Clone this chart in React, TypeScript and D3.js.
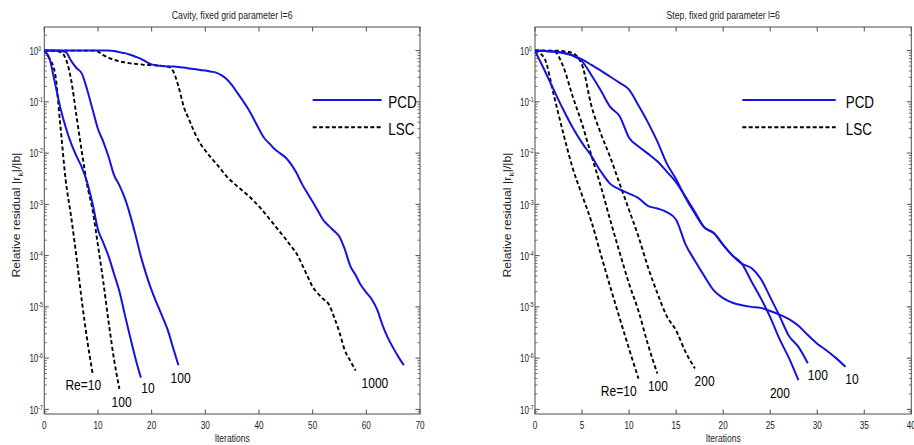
import React from 'react';
import * as d3 from 'd3';

const W = 914;
const H = 445;

// y axis: decades shown as tick labels
const yTickExps = [0, -1, -2, -3, -4, -5, -6, -7];
const cavityXTicks = [0, 10, 20, 30, 40, 50, 60, 70];
const stepXTicks = [0, 5, 10, 15, 20, 25, 30, 35, 40];

// log10 of relative residual, one value per iteration (iteration = index)
// Cavity
const cavityLsc10 = [0, -0.16, -0.44, -1.47, -2.54, -3.24, -4.03, -4.89, -5.65, -6.3];
const cavityLsc100 = [0, 0, -0.01, -0.03, -0.16, -0.57, -1.28, -1.98, -2.63, -3.11, -3.8, -4.52, -5.31, -6.03, -6.6];
const cavityPcd10 = [0, -0.17, -0.64, -1.12, -1.5, -1.81, -2.06, -2.28, -2.58, -2.99, -3.49, -3.75, -4.02, -4.36, -4.7, -5.15, -5.59, -6.01, -6.38];
const cavityPcd100 = [0, 0, 0, -0.01, -0.03, -0.2, -0.34, -0.45, -0.77, -1.15, -1.53, -1.78, -2.08, -2.43, -2.63, -2.88, -3.21, -3.6, -4.02, -4.37, -4.68, -4.94, -5.19, -5.45, -5.8, -6.14];
const cavityLsc1000 = [0, 0, 0, 0, 0, 0, 0, 0, 0, 0, -0.02, -0.09, -0.14, -0.18, -0.21, -0.23, -0.25, -0.26, -0.27, -0.28, -0.28, -0.29, -0.3, -0.31, -0.4, -0.7, -1.1, -1.35, -1.6, -1.8, -1.95, -2.08, -2.2, -2.33, -2.46, -2.56, -2.65, -2.74, -2.83, -2.93, -3.04, -3.16, -3.29, -3.42, -3.55, -3.68, -3.82, -3.96, -4.17, -4.39, -4.61, -4.74, -4.85, -4.95, -5.2, -5.5, -5.85, -6.05, -6.24];
const cavityPcd1000 = [0, 0, 0, 0, 0, 0, 0, 0, 0, 0, 0, 0, 0, -0.01, -0.03, -0.05, -0.08, -0.12, -0.16, -0.22, -0.27, -0.29, -0.3, -0.31, -0.31, -0.32, -0.33, -0.35, -0.36, -0.38, -0.39, -0.41, -0.43, -0.48, -0.56, -0.68, -0.83, -0.98, -1.14, -1.33, -1.53, -1.71, -1.82, -1.93, -2.01, -2.09, -2.22, -2.39, -2.6, -2.78, -2.95, -3.13, -3.31, -3.42, -3.52, -3.63, -3.88, -4.2, -4.38, -4.58, -4.72, -4.85, -5.05, -5.35, -5.6, -5.8, -5.98, -6.14];

// Step
const stepLsc10 = [0, -0.15, -0.87, -1.61, -2.29, -2.82, -3.34, -3.98, -4.61, -5.22, -5.82, -6.4];
const stepLsc100 = [0, 0, -0.01, -0.31, -0.89, -1.43, -2.05, -2.65, -3.31, -3.94, -4.55, -5.08, -5.73, -6.3];
const stepLsc200 = [0, 0, 0, -0.01, -0.05, -0.28, -1.08, -1.62, -2.08, -2.6, -3.11, -3.63, -4.22, -4.73, -5.18, -5.46, -5.88, -6.2];
const stepPcd10 = [0, -0.38, -0.77, -1.15, -1.5, -1.8, -2.06, -2.36, -2.6, -2.71, -2.79, -2.88, -3.03, -3.08, -3.15, -3.3, -3.78, -4.1, -4.4, -4.68, -4.83, -4.92, -4.97, -5.0, -5.02, -5.08, -5.15, -5.24, -5.37, -5.55, -5.72, -5.85, -6.0, -6.17];
const stepPcd100 = [0, -0.01, -0.02, -0.05, -0.1, -0.21, -0.48, -0.78, -1.1, -1.28, -1.7, -1.87, -2.01, -2.16, -2.36, -2.57, -2.85, -3.15, -3.45, -3.56, -3.79, -4.0, -4.16, -4.24, -4.45, -4.81, -5.18, -5.57, -5.78, -6.1];
const stepPcd200 = [0, -0.01, -0.02, -0.04, -0.09, -0.17, -0.28, -0.39, -0.51, -0.63, -0.76, -1.07, -1.4, -1.77, -2.2, -2.51, -2.87, -3.18, -3.45, -3.56, -3.79, -4.0, -4.16, -4.5, -4.83, -5.2, -5.63, -6.0, -6.43];

// curve-end annotations: [text, iteration, log10 residual]
const cavityLabels: [string, number, number][] = [
  ['Re=10', 7.27, -6.63],
  ['100', 14.4, -6.95],
  ['10', 19.3, -6.69],
  ['100', 25.4, -6.48],
  ['1000', 61.6, -6.59],
];
const stepLabels: [string, number, number][] = [
  ['Re=10', 8.9, -6.74],
  ['100', 13.07, -6.65],
  ['200', 18.03, -6.55],
  ['200', 26.04, -6.78],
  ['100', 30.07, -6.43],
  ['10', 33.7, -6.5],
];

const BLUE = '#1414dc';
const FONT = "'Liberation Sans', Arial, Helvetica, sans-serif";
const AXIS = '#4d4d4d';

const yScale = d3.scaleLog().domain([Math.pow(10, -7.09), Math.pow(10, 0.46)]).range([414, 27]);

type Series = { logs: number[]; kind: 'PCD' | 'LSC' };

function Cond({ x, y, sx, anchor, size, children, fill = '#111' }: any) {
  return (
    <text
      transform={`translate(${x},${y}) scale(${sx},1)`}
      textAnchor={anchor}
      fontSize={size}
      fontFamily={FONT}
      fill={fill}
    >
      {children}
    </text>
  );
}

function Panel({ id, x0, x1, xMax, xTicks, title, titleW, series, labels, legendX0, legendX1, legendTextX, yLabelX }: any) {
  const x = d3.scaleLinear().domain([0, xMax]).range([x0, x1]);
  const y = yScale;
  const [yBot, yTop] = y.range() as [number, number];
  const line = d3
    .line<number>()
    .x((_d, i) => x(i))
    .y((d) => y(Math.pow(10, d)))
    .curve(d3.curveMonotoneX);
  const minor: number[] = [];
  for (let e = -8; e <= 0; e++) {
    for (let k = 2; k <= 9; k++) {
      const v = k * Math.pow(10, e);
      if (v >= y.domain()[0] && v <= y.domain()[1]) minor.push(v);
    }
  }
  const cx = (x0 + x1) / 2;
  return (
    <g>
      <defs>
        <clipPath id={id}>
          <rect x={x0} y={yTop} width={x1 - x0} height={yBot - yTop} />
        </clipPath>
      </defs>
      <rect x={x0} y={yTop} width={x1 - x0} height={yBot - yTop} fill="#fff" stroke={AXIS} strokeWidth={1} />
      {xTicks.map((t: number) => (
        <g key={'xt' + t}>
          <line x1={x(t)} x2={x(t)} y1={yBot} y2={yBot - 4.5} stroke={AXIS} />
          <line x1={x(t)} x2={x(t)} y1={yTop} y2={yTop + 4.5} stroke={AXIS} />
          <Cond x={x(t)} y={428.5} sx={0.78} anchor="middle" size={10.5} fill="#222">
            {String(t)}
          </Cond>
        </g>
      ))}
      {yTickExps.map((e) => {
        const yy = y(Math.pow(10, e));
        return (
          <g key={'yt' + e}>
            <line x1={x0} x2={x0 + 4.5} y1={yy} y2={yy} stroke={AXIS} />
            <line x1={x1} x2={x1 - 4.5} y1={yy} y2={yy} stroke={AXIS} />
            <Cond x={x0 - 6} y={yy + 4.3} sx={0.8} anchor="end" size={10} fill="#222">
              10
            </Cond>
            <Cond x={x0 - 6} y={yy + 0.3} sx={0.8} anchor="start" size={6.5} fill="#222">
              {String(e)}
            </Cond>
          </g>
        );
      })}
      {minor.map((v, i) => (
        <g key={'m' + i}>
          <line x1={x0} x2={x0 + 2.5} y1={y(v)} y2={y(v)} stroke={AXIS} strokeWidth={0.8} />
          <line x1={x1} x2={x1 - 2.5} y1={y(v)} y2={y(v)} stroke={AXIS} strokeWidth={0.8} />
        </g>
      ))}
      <g clipPath={`url(#${id})`}>
        {series.map((s: Series, i: number) => (
          <path
            key={'s' + i}
            d={line(s.logs) || ''}
            fill="none"
            stroke={s.kind === 'PCD' ? BLUE : '#000'}
            strokeWidth={s.kind === 'PCD' ? 2 : 1.9}
            strokeDasharray={s.kind === 'PCD' ? undefined : '4,2.6'}
            strokeLinejoin="round"
          />
        ))}
      </g>
      {labels.map((l: [string, number, number], i: number) => (
        <Cond key={'l' + i} x={x(l[1])} y={y(Math.pow(10, l[2]))} sx={0.83} anchor="middle" size={14.5} fill="#000">
          {l[0]}
        </Cond>
      ))}
      <line x1={legendX0} x2={legendX1} y1={100} y2={100} stroke={BLUE} strokeWidth={2} />
      <line x1={legendX0} x2={legendX1} y1={127.3} y2={127.3} stroke="#000" strokeWidth={1.9} strokeDasharray="4,2.4" />
      <Cond x={legendTextX} y={108.3} sx={0.84} anchor="start" size={16} fill="#000">
        PCD
      </Cond>
      <Cond x={legendTextX} y={134.5} sx={0.84} anchor="start" size={16} fill="#000">
        LSC
      </Cond>
      <text x={cx} y={18.5} textAnchor="middle" fontSize={10.5} fontFamily={FONT} fill="#222" textLength={titleW} lengthAdjust="spacingAndGlyphs">
        {title}
      </text>
      <text x={cx} y={442} textAnchor="middle" fontSize={10.5} fontFamily={FONT} fill="#222" textLength={35} lengthAdjust="spacingAndGlyphs">
        Iterations
      </text>
      <text
        transform={`translate(${yLabelX},215) rotate(-90)`}
        textAnchor="middle"
        fontSize={10.5}
        fontFamily={FONT}
        fill="#222"
        textLength={125}
        lengthAdjust="spacingAndGlyphs"
      >
        Relative residual |r
        <tspan fontSize={8} dy={3}>k</tspan>
        <tspan dy={-3}>|/|b|</tspan>
      </text>
    </g>
  );
}

export default function App() {
  const cavitySeries: Series[] = [
    { logs: cavityLsc10, kind: 'LSC' },
    { logs: cavityLsc100, kind: 'LSC' },
    { logs: cavityLsc1000, kind: 'LSC' },
    { logs: cavityPcd10, kind: 'PCD' },
    { logs: cavityPcd100, kind: 'PCD' },
    { logs: cavityPcd1000, kind: 'PCD' },
  ];
  const stepSeries: Series[] = [
    { logs: stepLsc10, kind: 'LSC' },
    { logs: stepLsc100, kind: 'LSC' },
    { logs: stepLsc200, kind: 'LSC' },
    { logs: stepPcd10, kind: 'PCD' },
    { logs: stepPcd100, kind: 'PCD' },
    { logs: stepPcd200, kind: 'PCD' },
  ];
  return (
    <svg
      width={W}
      height={H}
      viewBox={`0 0 ${W} ${H}`}
      style={{ position: 'absolute', left: 0, top: 0, background: '#fff' }}
    >
      <rect x={0} y={0} width={W} height={H} fill="#fff" />
      <Panel
        id="clipCavity"
        x0={44.3}
        x1={420}
        xMax={70}
        xTicks={cavityXTicks}
        title="Cavity, fixed grid parameter l=6"
        titleW={120.7}
        series={cavitySeries}
        labels={cavityLabels}
        legendX0={312.7}
        legendX1={381.7}
        legendTextX={388.3}
        yLabelX={19.5}
      />
      <Panel
        id="clipStep"
        x0={535}
        x1={911.3}
        xMax={40}
        xTicks={stepXTicks}
        title="Step, fixed grid parameter l=6"
        titleW={113.3}
        series={stepSeries}
        labels={stepLabels}
        legendX0={742.3}
        legendX1={835.7}
        legendTextX={845.7}
        yLabelX={510.5}
      />
    </svg>
  );
}
